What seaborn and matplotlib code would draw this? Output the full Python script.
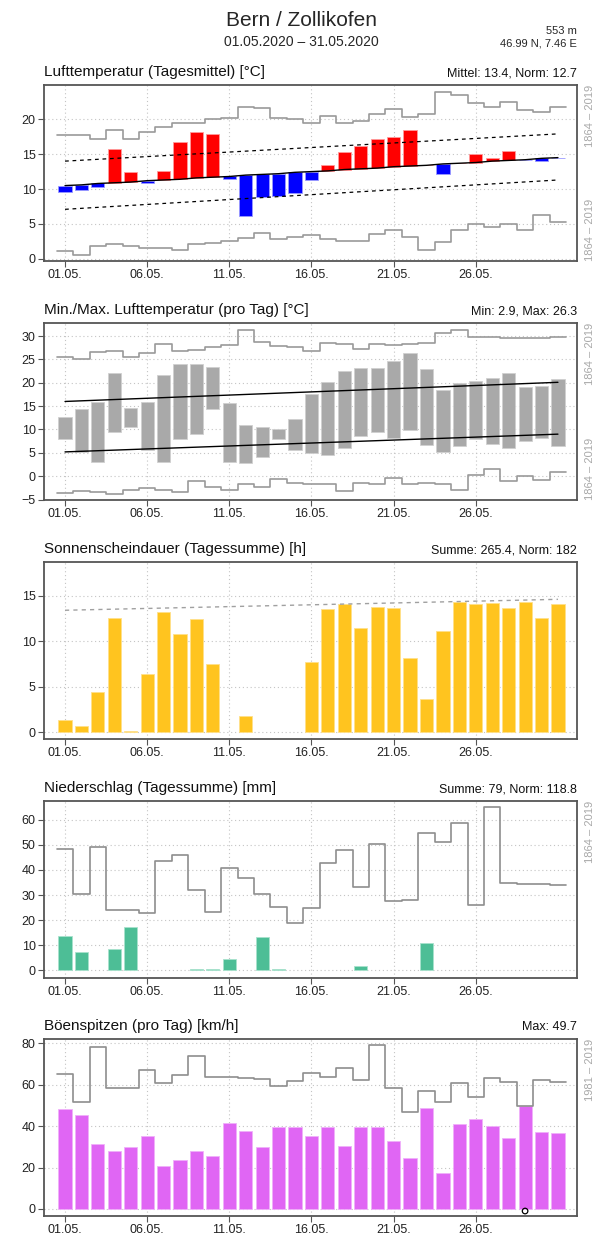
import numpy as np
import pandas as pd
import matplotlib
matplotlib.use("Agg")
import matplotlib.pyplot as plt
import seaborn as sns

sns.set_theme(style="white")
plt.rcParams["font.family"] = ["Liberation Sans", "DejaVu Sans"]

# ---------------------------------------------------------------- data
days = list(range(1, 32))
tick_days = [1, 6, 11, 16, 21, 26]
tick_labels = ["01.05.", "06.05.", "11.05.", "16.05.", "21.05.", "26.05."]

station = "Bern / Zollikofen"
period = "01.05.2020 – 31.05.2020"
altitude = "553 m"
coords = "46.99 N, 7.46 E"

# daily mean air temperature [°C]
temp_mean = [9.6, 9.9, 10.3, 15.7, 12.4, 10.9, 12.6, 16.7, 18.2, 17.9,
             11.4, 6.1, 8.8, 9.0, 9.5, 11.3, 13.5, 15.3, 16.1, 17.1,
             17.4, 18.5, 13.5, 12.1, 13.8, 15.0, 14.4, 15.4, 14.1, 14.0, 14.4]
temp_norm = [10.5, 10.6, 10.8, 10.9, 11.0, 11.2, 11.3, 11.4, 11.6, 11.7,
             11.8, 12.0, 12.1, 12.2, 12.4, 12.5, 12.6, 12.8, 12.9, 13.0,
             13.2, 13.3, 13.4, 13.6, 13.7, 13.8, 14.0, 14.1, 14.2, 14.4, 14.5]
temp_band_days = [1, 31]
temp_band_upper = [14.0, 17.9]
temp_band_lower = [7.1, 11.3]
temp_rec_max = [17.8, 17.7, 17.1, 18.5, 17.2, 18.1, 18.9, 19.4, 19.5, 20.0,
                20.2, 21.8, 21.6, 20.2, 20.0, 19.5, 20.4, 19.5, 19.8, 20.7,
                21.5, 20.3, 20.7, 23.9, 23.4, 22.3, 21.8, 22.4, 21.3, 21.1, 21.8]
temp_rec_min = [1.2, 0.6, 1.9, 2.1, 1.9, 1.6, 1.6, 1.3, 2.1, 2.3,
                2.5, 3.0, 3.7, 2.9, 3.1, 3.4, 2.8, 2.6, 2.5, 3.5,
                4.1, 3.1, 1.3, 2.4, 4.2, 5.0, 4.5, 5.0, 4.1, 6.3, 5.3]

# daily min / max air temperature [°C]
tmax = [12.6, 14.3, 15.8, 22.1, 14.7, 15.8, 21.6, 24.0, 24.1, 23.3,
        15.6, 10.9, 10.6, 10.0, 12.3, 17.6, 20.2, 22.6, 23.1, 23.1,
        24.7, 26.3, 23.0, 18.4, 19.9, 20.3, 21.1, 22.2, 19.1, 19.3, 20.9]
tmin = [8.0, 5.1, 3.0, 9.5, 10.5, 5.5, 3.1, 7.9, 9.1, 14.4,
        3.0, 2.9, 4.2, 7.9, 5.6, 4.9, 4.6, 6.1, 8.7, 9.4,
        8.1, 9.9, 6.6, 5.1, 6.4, 7.9, 6.9, 6.0, 7.6, 8.1, 6.4]
tmax_norm = [16.0, 20.1]
tmin_norm = [5.2, 9.0]
tx_rec_max = [25.6, 25.0, 26.6, 26.8, 25.6, 26.3, 28.2, 26.8, 27.1, 27.6,
              28.0, 31.4, 28.8, 27.8, 27.6, 26.9, 28.6, 28.3, 27.2, 28.3,
              28.1, 28.3, 28.5, 30.6, 31.3, 29.9, 29.7, 29.5, 29.5, 29.6, 29.8]
tn_rec_min = [-3.6, -3.1, -3.4, -3.8, -2.9, -2.6, -3.0, -3.4, -1.0, -2.4,
              -2.9, -1.6, -2.4, -0.7, -1.5, -1.6, -1.7, -3.1, -1.5, -1.6,
              -0.4, -1.7, -1.4, -1.7, -3.0, 0.3, 1.5, -1.0, 0.1, -0.9, 0.8]

# sunshine duration [h]
sunshine = [1.4, 0.7, 4.4, 12.5, 0.1, 6.4, 13.2, 10.8, 12.4, 7.5,
            0.0, 1.8, 0.0, 0.0, 0.0, 7.7, 13.5, 14.1, 11.4, 13.8,
            13.7, 8.2, 3.6, 11.1, 14.3, 14.1, 14.2, 13.6, 14.3, 12.5, 14.1]
sun_possible = [13.4, 14.6]

# precipitation [mm]
precip = [13.8, 7.5, 0.0, 8.7, 17.2, 0.0, 0.0, 0.0, 0.4, 0.4,
          4.5, 0.0, 13.3, 0.5, 0.0, 0.0, 0.0, 0.0, 1.9, 0.0,
          0.0, 0.0, 10.8, 0.0, 0.0, 0.0, 0.0, 0.0, 0.0, 0.0, 0.0]
precip_rec = [48.2, 30.3, 49.1, 24.1, 24.1, 22.7, 43.5, 46.0, 32.0, 23.4,
              40.6, 36.7, 30.3, 25.4, 19.0, 24.7, 42.8, 48.1, 33.3, 50.2,
              27.7, 28.0, 54.7, 50.9, 58.8, 26.0, 65.0, 34.9, 34.4, 34.2, 33.9]

# peak gusts [km/h]
gusts = [48.2, 45.3, 31.6, 28.0, 30.0, 35.1, 20.8, 23.7, 28.2, 25.4,
         41.5, 37.7, 29.8, 39.5, 39.8, 35.4, 39.8, 30.4, 39.5, 39.8,
         32.7, 24.5, 48.8, 17.2, 40.9, 43.6, 40.1, 34.3, 49.7, 37.4, 36.6]
gust_rec = [65.2, 51.5, 78.1, 58.6, 58.6, 67.0, 60.9, 64.7, 73.9, 63.6,
            63.9, 63.4, 63.0, 59.3, 61.8, 65.9, 63.9, 68.0, 62.2, 79.2,
            58.3, 46.9, 56.8, 51.9, 60.7, 54.3, 63.3, 61.5, 49.7, 62.5, 61.5]

# ---------------------------------------------------------------- style
RED, BLUE = "#ff0000", "#0000ff"
GREY_BAR = "#a9a9a9"
SUN = "#ffc41f"
RAIN = "#4dbe96"
GUST = "#e066f4"
REC = "#9a9a9a"
FRAME = "#555555"

W, H = 602, 1241
fig = plt.figure(figsize=(W / 100, H / 100), dpi=100)


def make_axes(top, bottom):
    return fig.add_axes([44 / W, 1 - bottom / H, (577 - 44) / W, (bottom - top) / H])


def style_axes(ax, ylim, yticks):
    ax.set_xlim(-0.28, 32.16)
    ax.set_ylim(*ylim)
    ax.set_xticks(tick_days)
    ax.set_xticklabels(tick_labels)
    ax.set_yticks(yticks)
    ax.set_xlabel("")
    ax.set_ylabel("")
    ax.set_axisbelow(True)
    ax.grid(True, linestyle=(0, (1, 2.5)), color="#c4c4c4", linewidth=0.8)
    for s in ax.spines.values():
        s.set_color(FRAME)
        s.set_linewidth(1.3)
    ax.tick_params(axis="both", direction="out", length=4, width=0.8,
                   color=FRAME, labelsize=9, labelcolor="#222222", pad=2,
                   bottom=True, left=True)


def titles(ax, left, right):
    ax.annotate(left, xy=(0, 1), xycoords="axes fraction", xytext=(0, 4),
                textcoords="offset points", ha="left", va="bottom",
                fontsize=11, color="#111111")
    ax.annotate(right, xy=(1, 1), xycoords="axes fraction", xytext=(0, 4),
                textcoords="offset points", ha="right", va="bottom",
                fontsize=9, color="#111111")


def period_label(ax, text, where):
    y, va = (1.0, "top") if where == "top" else (0.0, "bottom")
    ax.text(1.025, y, text, transform=ax.transAxes, rotation=90,
            ha="center", va=va, fontsize=8, color="#a8a8a8")


def record_steps(ax, values, color=REC, lw=1.2):
    edges = [d - 0.5 for d in days] + [days[-1] + 0.5]
    vals = list(values) + [values[-1]]
    sns.lineplot(x=edges, y=vals, drawstyle="steps-post", color=color,
                 linewidth=lw, ax=ax, legend=False, estimator=None)


def float_bars(ax, sel, lo, hi, color, edge):
    x = [days[i] for i in sel]
    base = np.array([lo[i] for i in sel])
    top = np.array([hi[i] for i in sel])
    df = pd.DataFrame({"day": x, "h": top - base})
    sns.barplot(data=df, x="day", y="h", bottom=base, native_scale=True,
                color=color, saturation=1, width=0.8, errorbar=None,
                edgecolor=edge, linewidth=0.6, ax=ax)


def plain_bars(ax, values, color, edge):
    # days without any amount get no bar at all
    df = pd.DataFrame({"day": days, "v": values})
    df = df[df["v"] > 0]
    sns.barplot(data=df, x="day", y="v", native_scale=True, color=color,
                saturation=1, width=0.8, errorbar=None, edgecolor=edge,
                linewidth=0.6, ax=ax)


# ---------------------------------------------------------------- header
fig.text(301 / W, 1 - 21 / H, station, ha="center", va="center", fontsize=15)
fig.text(301 / W, 1 - 42 / H, period, ha="center", va="center", fontsize=10)
fig.text(577 / W, 1 - 31 / H, altitude, ha="right", va="center", fontsize=8)
fig.text(577 / W, 1 - 44 / H, coords, ha="right", va="center", fontsize=8)

# ---------------------------------------------------------------- 1: daily mean
ax1 = make_axes(85, 261)
above = [i for i in range(31) if temp_mean[i] >= temp_norm[i]]
below = [i for i in range(31) if temp_mean[i] < temp_norm[i]]
float_bars(ax1, above, temp_norm, temp_mean, RED, "#ff9a9a")
float_bars(ax1, below, temp_norm, temp_mean, BLUE, "#9a9aff")
record_steps(ax1, temp_rec_max)
record_steps(ax1, temp_rec_min)
sns.lineplot(x=days, y=temp_norm, color="black", linewidth=1.0, ax=ax1,
             legend=False, estimator=None)
for band in (temp_band_upper, temp_band_lower):
    sns.lineplot(x=temp_band_days, y=band, color="black", linewidth=0.9,
                 linestyle=(0, (3, 3)), ax=ax1, legend=False, estimator=None)
style_axes(ax1, (-0.3, 24.9), [0, 5, 10, 15, 20])
mean_val = np.mean(temp_mean)
titles(ax1, "Lufttemperatur (Tagesmittel) [°C]",
       f"Mittel: {mean_val:.1f}, Norm: 12.7")
period_label(ax1, "1864 – 2019", "top")
period_label(ax1, "1864 – 2019", "bottom")

# ---------------------------------------------------------------- 2: min/max
ax2 = make_axes(323, 500)
float_bars(ax2, list(range(31)), tmin, tmax, GREY_BAR, "#d0d0d0")
record_steps(ax2, tx_rec_max)
record_steps(ax2, tn_rec_min)
for nl in (tmax_norm, tmin_norm):
    sns.lineplot(x=temp_band_days, y=nl, color="black", linewidth=1.0,
                 ax=ax2, legend=False, estimator=None)
style_axes(ax2, (-5.1, 32.8), [-5, 0, 5, 10, 15, 20, 25, 30])
titles(ax2, "Min./Max. Lufttemperatur (pro Tag) [°C]",
       f"Min: {min(tmin):.1f}, Max: {max(tmax):.1f}")
period_label(ax2, "1864 – 2019", "top")
period_label(ax2, "1864 – 2019", "bottom")

# ---------------------------------------------------------------- 3: sunshine
ax3 = make_axes(562, 739)
plain_bars(ax3, sunshine, SUN, "#ffe08a")
sns.lineplot(x=temp_band_days, y=sun_possible, color="#a0a0a0", linewidth=1.0,
             linestyle=(0, (3, 3)), ax=ax3, legend=False, estimator=None)
style_axes(ax3, (-0.74, 18.7), [0, 5, 10, 15])
titles(ax3, "Sonnenscheindauer (Tagessumme) [h]",
       f"Summe: {sum(sunshine):.1f}, Norm: 182")

# ---------------------------------------------------------------- 4: precipitation
ax4 = make_axes(801, 978)
plain_bars(ax4, precip, RAIN, "#a8e2cd")
record_steps(ax4, precip_rec, color="#8e8e8e")
style_axes(ax4, (-3.0, 67.4), [0, 10, 20, 30, 40, 50, 60])
titles(ax4, "Niederschlag (Tagessumme) [mm]",
       f"Summe: {sum(precip):.0f}, Norm: 118.8")
period_label(ax4, "1864 – 2019", "top")

# ---------------------------------------------------------------- 5: gusts
ax5 = make_axes(1039, 1216)
plain_bars(ax5, gusts, GUST, "#f0b0fa")
record_steps(ax5, gust_rec, color="#8e8e8e")
imax = int(np.argmax(gusts))
ax5.scatter([days[imax]], [-1.0], s=16, facecolors="none",
            edgecolors="black", linewidths=0.9, zorder=5, clip_on=False)
style_axes(ax5, (-3.4, 82.1), [0, 20, 40, 60, 80])
titles(ax5, "Böenspitzen (pro Tag) [km/h]", f"Max: {max(gusts):.1f}")
period_label(ax5, "1981 – 2019", "top")

fig.savefig("out.png", dpi=100)
